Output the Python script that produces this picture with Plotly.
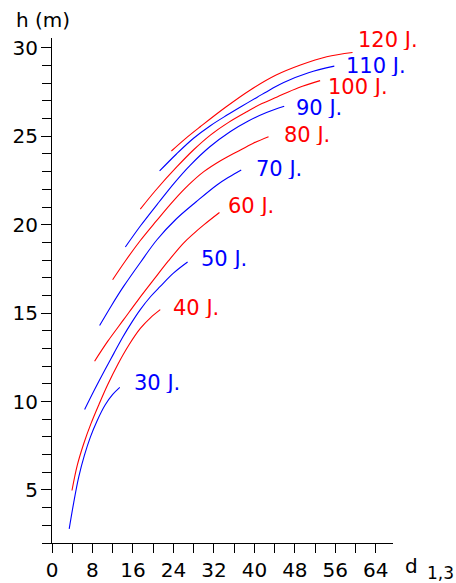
import plotly.graph_objects as go

# ---- data ----
energies = ["30 J.", "40 J.", "50 J.", "60 J.", "70 J.", "80 J.", "90 J.", "100 J.", "110 J.", "120 J."]
colors = ["#0000FF", "#FF0000"] * 5

d30 = [3.4, 4.3, 5.3, 6.4, 7.6, 8.9, 10.5, 12.0, 13.4]
h30 = [2.8, 4.3, 5.75, 6.95, 8.0, 8.9, 9.8, 10.4, 10.8]
d40 = [3.95, 5.0, 6.25, 7.7, 9.3, 11.0, 13.0, 15.2, 17.5, 19.5, 21.4]
h40 = [4.97, 6.4, 7.6, 8.75, 9.85, 10.95, 12.1, 13.2, 14.15, 14.75, 15.2]
d50 = [6.45, 8.5, 10.5, 12.2, 14.0, 15.7, 17.45, 19.5, 21.4, 24.0, 26.8]
h50 = [9.55, 10.72, 11.81, 12.71, 13.65, 14.45, 15.2, 15.94, 16.51, 17.26, 17.89]
d60 = [8.42, 11.0, 14.15, 17.0, 20.1, 23.0, 26.0, 28.0, 30.0, 33.1]
h60 = [12.28, 13.4, 14.63, 15.74, 16.89, 17.95, 18.96, 19.5, 19.99, 20.69]
d70 = [9.41, 11.8, 14.15, 17.5, 20.75, 24.5, 28.5, 32.6, 35.0, 37.4]
h70 = [14.3, 15.45, 16.51, 17.88, 19.15, 20.31, 21.3, 22.25, 22.7, 23.1]
d80 = [11.98, 14.5, 17.5, 20.5, 24.0, 27.0, 30.0, 33.3, 36.6, 39.7, 42.8]
h80 = [16.89, 17.95, 19.12, 20.17, 21.35, 22.25, 23.0, 23.62, 24.13, 24.6, 24.98]
d90 = [14.5, 17.5, 21.2, 24.2, 27.3, 31.2, 35.2, 38.8, 42.4, 45.9]
h90 = [18.74, 19.94, 21.3, 22.37, 23.36, 24.41, 25.26, 25.87, 26.35, 26.7]
d100 = [17.45, 20.5, 24.7, 28.0, 31.3, 34.9, 38.5, 41.5, 44.5, 48.7, 53.0]
h100 = [20.88, 21.95, 23.28, 24.24, 25.07, 25.79, 26.39, 26.85, 27.23, 27.75, 28.15]
d110 = [21.27, 24.6, 27.98, 31.3, 34.6, 37.5, 40.5, 43.2, 45.8, 50.7, 55.8]
h110 = [23.04, 24.0, 24.89, 25.6, 26.2, 26.7, 27.2, 27.65, 28.05, 28.6, 28.97]
d120 = [23.6, 26.5, 29.3, 34.3, 39.2, 44.2, 49.1, 54.3, 59.4]
h120 = [24.17, 24.9, 25.54, 26.64, 27.62, 28.45, 29.03, 29.5, 29.74]

label_x = [16.1, 23.7, 29.3, 34.6, 40.2, 45.6, 48.1, 54.3, 58.0, 60.3]
label_y = [11.05, 15.27, 18.07, 21.07, 23.13, 25.1, 26.6, 27.8, 28.97, 30.43]

x_ticks = [0, 8, 16, 24, 32, 40, 48, 56, 64]
y_ticks = [5, 10, 15, 20, 25, 30]

curves = [(d30, h30), (d40, h40), (d50, h50), (d60, h60), (d70, h70),
          (d80, h80), (d90, h90), (d100, h100), (d110, h110), (d120, h120)]

FONT = "DejaVu Sans"

fig = go.Figure()
for (dx, hy), name, col in zip(curves, energies, colors):
    fig.add_trace(go.Scatter(x=dx, y=hy, mode="lines", name=name,
                             line=dict(color=col, width=1.1, shape="spline", smoothing=1.0),
                             showlegend=False, hoverinfo="skip"))

for name, col, lx, ly in zip(energies, colors, label_x, label_y):
    fig.add_annotation(x=lx, y=ly, xref="x", yref="y", text=name, showarrow=False,
                       xanchor="left", yanchor="middle", height=20, borderpad=0,
                       font=dict(family=FONT, size=21, color=col))

fig.add_annotation(x=-0.11, y=1.0, xref="paper", yref="paper", yshift=18,
                   text="h (m)", showarrow=False, xanchor="left", yanchor="middle",
                   font=dict(family=FONT, size=20, color="black"))
fig.add_annotation(x=1.0, y=0, xref="paper", yref="paper", xshift=10, yshift=-23,
                   text="d", showarrow=False, xanchor="left", yanchor="middle",
                   font=dict(family=FONT, size=20, color="black"))
fig.add_annotation(x=1.0, y=0, xref="paper", yref="paper", xshift=32, yshift=-30,
                   text="1,3", showarrow=False, xanchor="left", yanchor="middle",
                   font=dict(family=FONT, size=17, color="black"))

fig.update_layout(
    width=456, height=583,
    margin=dict(l=52, r=63, t=38, b=40),
    paper_bgcolor="white", plot_bgcolor="white",
    font=dict(family=FONT, size=20, color="black"),
    xaxis=dict(range=[0, 67.4], tickvals=x_ticks, ticktext=[str(v) for v in x_ticks],
               ticks="outside", ticklen=9, tickcolor="black", tickwidth=1,
               automargin=False,
               showline=True, linecolor="black", linewidth=1, showgrid=False, zeroline=False,
               minor=dict(dtick=4, tick0=0, ticks="outside", ticklen=9, tickcolor="black", showgrid=False),
               tickfont=dict(family=FONT, size=20, color="black")),
    yaxis=dict(range=[2.0, 30.56], tickvals=y_ticks, ticktext=[str(v) for v in y_ticks],
               ticks="outside", ticklen=10, tickcolor="black", tickwidth=1,
               ticklabelstandoff=-1, automargin=False,
               showline=True, linecolor="black", linewidth=1, showgrid=False, zeroline=False,
               minor=dict(dtick=1, tick0=0, ticks="outside", ticklen=9, tickcolor="black", showgrid=False),
               tickfont=dict(family=FONT, size=20, color="black")),
)

fig.write_html("out.html")
